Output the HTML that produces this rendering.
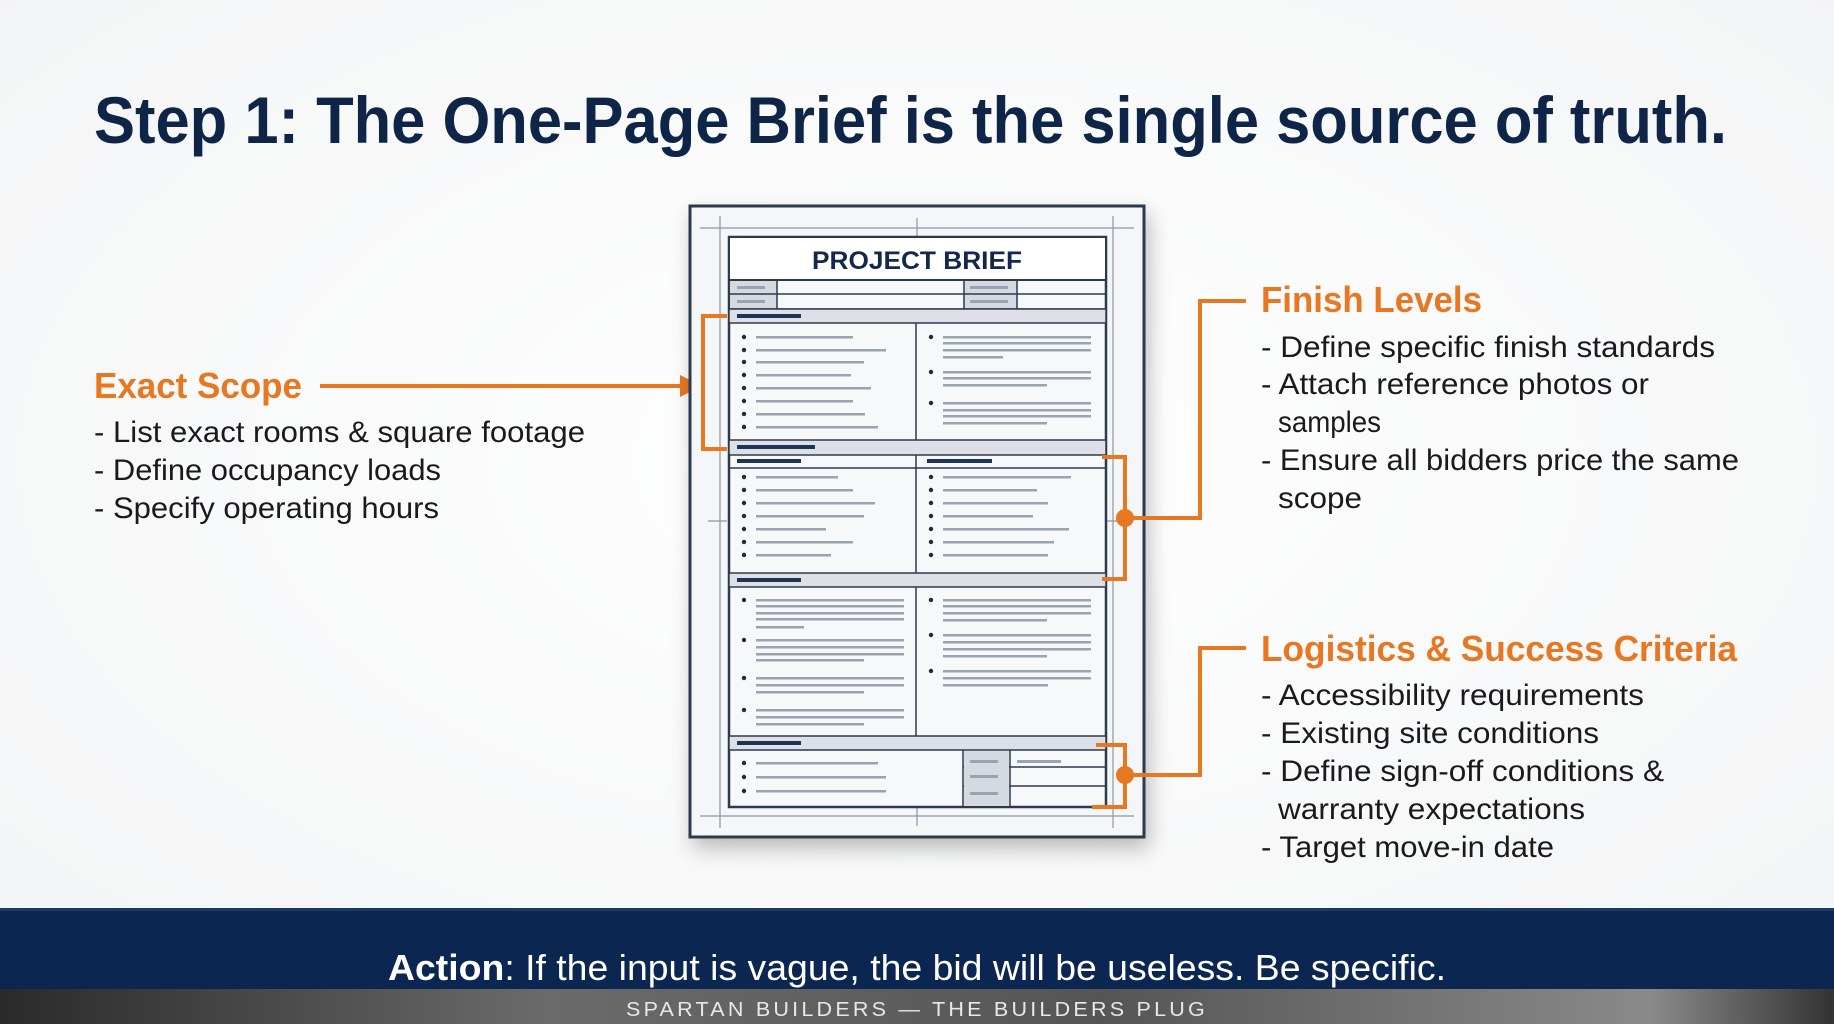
<!DOCTYPE html>
<html><head><meta charset="utf-8"><style>
html,body{margin:0;padding:0;background:#fff;}
svg{display:block;}
text{font-family:"Liberation Sans",sans-serif;}
</style></head><body>
<svg width="1834" height="1024" viewBox="0 0 1834 1024" xmlns="http://www.w3.org/2000/svg">
<defs>
<radialGradient id="bg" cx="50%" cy="45%" r="70%"><stop offset="0" stop-color="#ffffff"/><stop offset="1" stop-color="#f3f4f5"/></radialGradient>
<linearGradient id="floor" x1="0" y1="0" x2="1" y2="0"><stop offset="0" stop-color="#2a2a2a"/><stop offset="0.3" stop-color="#6b6b6b"/><stop offset="0.6" stop-color="#555"/><stop offset="0.9" stop-color="#8a8a8a"/><stop offset="1" stop-color="#333"/></linearGradient>
<filter id="sh" x="-10%" y="-10%" width="130%" height="130%"><feDropShadow dx="4" dy="10" stdDeviation="10" flood-color="#000" flood-opacity="0.25"/></filter>
</defs>
<rect width="1834" height="1024" fill="url(#bg)"/>

<text x="94" y="143" font-size="66" font-weight="bold" fill="#0F2547" textLength="1633" lengthAdjust="spacingAndGlyphs">Step 1: The One-Page Brief is the single source of truth.</text>

<text x="94" y="398" font-size="36" font-weight="bold" fill="#E87722" textLength="208" lengthAdjust="spacingAndGlyphs">Exact Scope</text>
<line x1="320" y1="386" x2="682" y2="386" stroke="#E87722" stroke-width="4"/>
<polygon points="680,375 702,386 680,397" fill="#E87722"/>
<g font-size="30" fill="#1a1a1a">
<text x="94" y="442" textLength="491" lengthAdjust="spacingAndGlyphs">- List exact rooms &amp; square footage</text>
<text x="94" y="480" textLength="347" lengthAdjust="spacingAndGlyphs">- Define occupancy loads</text>
<text x="94" y="518" textLength="345" lengthAdjust="spacingAndGlyphs">- Specify operating hours</text>
</g>

<text x="1261" y="312" font-size="36" font-weight="bold" fill="#E87722" textLength="221" lengthAdjust="spacingAndGlyphs">Finish Levels</text>
<g font-size="30" fill="#1a1a1a">
<text x="1261" y="357" textLength="454" lengthAdjust="spacingAndGlyphs">- Define specific finish standards</text>
<text x="1261" y="394" textLength="388" lengthAdjust="spacingAndGlyphs">- Attach reference photos or</text>
<text x="1278" y="432" textLength="103" lengthAdjust="spacingAndGlyphs">samples</text>
<text x="1261" y="470" textLength="478" lengthAdjust="spacingAndGlyphs">- Ensure all bidders price the same</text>
<text x="1278" y="508" textLength="84" lengthAdjust="spacingAndGlyphs">scope</text>
</g>

<text x="1261" y="661" font-size="36" font-weight="bold" fill="#E87722" textLength="476" lengthAdjust="spacingAndGlyphs">Logistics &amp; Success Criteria</text>
<g font-size="30" fill="#1a1a1a">
<text x="1261" y="705" textLength="383" lengthAdjust="spacingAndGlyphs">- Accessibility requirements</text>
<text x="1261" y="743" textLength="338" lengthAdjust="spacingAndGlyphs">- Existing site conditions</text>
<text x="1261" y="781" textLength="403" lengthAdjust="spacingAndGlyphs">- Define sign-off conditions &amp;</text>
<text x="1278" y="819" textLength="307" lengthAdjust="spacingAndGlyphs">warranty expectations</text>
<text x="1261" y="857" textLength="293" lengthAdjust="spacingAndGlyphs">- Target move-in date</text>
</g>

<rect x="690" y="206" width="454" height="631" fill="#f4f6f8" stroke="#2c3a4d" stroke-width="3" filter="url(#sh)"/>
<g stroke="#8a96a6" stroke-width="1.2" fill="none">
<line x1="720" y1="216" x2="720" y2="828"/><line x1="1113" y1="216" x2="1113" y2="828"/>
<line x1="700" y1="228" x2="1134" y2="228"/><line x1="700" y1="816" x2="1134" y2="816"/>
<line x1="917" y1="218" x2="917" y2="236"/><line x1="917" y1="807" x2="917" y2="826"/>
<line x1="708" y1="521" x2="727" y2="521"/><line x1="1106" y1="521" x2="1125" y2="521"/>
</g>
<rect x="729" y="237" width="377" height="570" fill="#f7f8fa" stroke="#2c3a4d" stroke-width="2.5"/>
<rect x="729" y="237" width="377" height="43" fill="#fff" stroke="#2c3a4d" stroke-width="2"/>
<text x="917" y="269" font-size="25" font-weight="bold" fill="#13284a" text-anchor="middle" textLength="210" lengthAdjust="spacingAndGlyphs">PROJECT BRIEF</text>
<rect x="730" y="281" width="47" height="28" fill="#d5dae1"/>
<rect x="964" y="281" width="53" height="28" fill="#d5dae1"/>
<g stroke="#2c3a4d" stroke-width="1.5" fill="none">
<line x1="729" y1="294" x2="1106" y2="294"/><line x1="729" y1="309" x2="1106" y2="309"/>
<line x1="777" y1="280" x2="777" y2="309"/><line x1="964" y1="280" x2="964" y2="309"/><line x1="1017" y1="280" x2="1017" y2="309"/>
</g>
<g fill="#9aa3af"><rect x="737" y="286" width="28" height="3"/><rect x="737" y="300" width="28" height="3"/><rect x="970" y="286" width="38" height="3"/><rect x="970" y="300" width="38" height="3"/></g>
<g fill="#dde1e7" stroke="#2c3a4d" stroke-width="1.5">
<rect x="729" y="309" width="377" height="14"/>
<rect x="729" y="440" width="377" height="15"/>
<rect x="729" y="573" width="377" height="14"/>
<rect x="729" y="736" width="377" height="14"/>
</g>
<g stroke="#2c3a4d" stroke-width="1.5">
<line x1="729" y1="468" x2="1106" y2="468"/>
<line x1="916" y1="323" x2="916" y2="440"/><line x1="916" y1="455" x2="916" y2="573"/><line x1="916" y1="587" x2="916" y2="736"/>
<line x1="963" y1="750" x2="963" y2="807"/><line x1="1010" y1="750" x2="1010" y2="807"/>
<line x1="963" y1="767" x2="1106" y2="767"/><line x1="963" y1="786" x2="1106" y2="786"/>
</g>
<rect x="964" y="751" width="45" height="55" fill="#d5dae1"/>
<g fill="#1f3455">
<rect x="737" y="314" width="64" height="4"/><rect x="737" y="445" width="78" height="4"/>
<rect x="737" y="459" width="64" height="4"/><rect x="927" y="459" width="65" height="4"/>
<rect x="737" y="578" width="64" height="4"/><rect x="737" y="741" width="64" height="4"/>
</g>
<g fill="#1f2a3a">
<circle cx="744" cy="337" r="2.2"/><circle cx="744" cy="350" r="2.2"/><circle cx="744" cy="362" r="2.2"/><circle cx="744" cy="375" r="2.2"/><circle cx="744" cy="388" r="2.2"/><circle cx="744" cy="401" r="2.2"/><circle cx="744" cy="414" r="2.2"/><circle cx="744" cy="427" r="2.2"/>
<circle cx="931" cy="337" r="2.2"/><circle cx="931" cy="372" r="2.2"/><circle cx="931" cy="403" r="2.2"/>
<circle cx="744" cy="477" r="2.2"/><circle cx="744" cy="490" r="2.2"/><circle cx="744" cy="503" r="2.2"/><circle cx="744" cy="516" r="2.2"/><circle cx="744" cy="529" r="2.2"/><circle cx="744" cy="542" r="2.2"/><circle cx="744" cy="555" r="2.2"/>
<circle cx="931" cy="477" r="2.2"/><circle cx="931" cy="490" r="2.2"/><circle cx="931" cy="503" r="2.2"/><circle cx="931" cy="516" r="2.2"/><circle cx="931" cy="529" r="2.2"/><circle cx="931" cy="542" r="2.2"/><circle cx="931" cy="555" r="2.2"/>
<circle cx="744" cy="600" r="2.2"/><circle cx="744" cy="640" r="2.2"/><circle cx="744" cy="678" r="2.2"/><circle cx="744" cy="710" r="2.2"/>
<circle cx="931" cy="600" r="2.2"/><circle cx="931" cy="635" r="2.2"/><circle cx="931" cy="671" r="2.2"/>
<circle cx="744" cy="763" r="2.2"/><circle cx="744" cy="777" r="2.2"/><circle cx="744" cy="791" r="2.2"/>
</g>
<g fill="#9aa3af">
<rect x="756" y="336" width="97" height="2.5"/><rect x="756" y="349" width="130" height="2.5"/><rect x="756" y="361" width="108" height="2.5"/><rect x="756" y="374" width="95" height="2.5"/><rect x="756" y="387" width="115" height="2.5"/><rect x="756" y="400" width="97" height="2.5"/><rect x="756" y="413" width="109" height="2.5"/><rect x="756" y="426" width="122" height="2.5"/>
<rect x="943" y="336" width="148" height="2.5"/><rect x="943" y="342" width="148" height="2.5"/><rect x="943" y="349" width="148" height="2.5"/><rect x="943" y="356" width="60" height="2.5"/>
<rect x="943" y="371" width="148" height="2.5"/><rect x="943" y="377" width="148" height="2.5"/><rect x="943" y="384" width="104" height="2.5"/>
<rect x="943" y="402" width="148" height="2.5"/><rect x="943" y="409" width="148" height="2.5"/><rect x="943" y="415" width="148" height="2.5"/><rect x="943" y="422" width="104" height="2.5"/>
<rect x="756" y="476" width="82" height="2.5"/><rect x="756" y="489" width="97" height="2.5"/><rect x="756" y="502" width="119" height="2.5"/><rect x="756" y="515" width="108" height="2.5"/><rect x="756" y="528" width="70" height="2.5"/><rect x="756" y="541" width="97" height="2.5"/><rect x="756" y="554" width="75" height="2.5"/>
<rect x="943" y="476" width="128" height="2.5"/><rect x="943" y="489" width="94" height="2.5"/><rect x="943" y="502" width="105" height="2.5"/><rect x="943" y="515" width="90" height="2.5"/><rect x="943" y="528" width="126" height="2.5"/><rect x="943" y="541" width="111" height="2.5"/><rect x="943" y="554" width="105" height="2.5"/>
<rect x="756" y="599" width="148" height="2.5"/><rect x="756" y="605" width="148" height="2.5"/><rect x="756" y="612" width="148" height="2.5"/><rect x="756" y="618" width="148" height="2.5"/><rect x="756" y="626" width="48" height="2.5"/>
<rect x="756" y="639" width="148" height="2.5"/><rect x="756" y="646" width="148" height="2.5"/><rect x="756" y="653" width="148" height="2.5"/><rect x="756" y="659" width="108" height="2.5"/>
<rect x="756" y="677" width="148" height="2.5"/><rect x="756" y="684" width="148" height="2.5"/><rect x="756" y="691" width="108" height="2.5"/>
<rect x="756" y="709" width="148" height="2.5"/><rect x="756" y="716" width="148" height="2.5"/><rect x="756" y="723" width="108" height="2.5"/>
<rect x="943" y="599" width="148" height="2.5"/><rect x="943" y="605" width="148" height="2.5"/><rect x="943" y="612" width="148" height="2.5"/><rect x="943" y="619" width="104" height="2.5"/>
<rect x="943" y="634" width="148" height="2.5"/><rect x="943" y="641" width="148" height="2.5"/><rect x="943" y="648" width="148" height="2.5"/><rect x="943" y="655" width="104" height="2.5"/>
<rect x="943" y="670" width="148" height="2.5"/><rect x="943" y="677" width="148" height="2.5"/><rect x="943" y="684" width="105" height="2.5"/>
<rect x="756" y="762" width="122" height="2.5"/><rect x="756" y="776" width="130" height="2.5"/><rect x="756" y="790" width="130" height="2.5"/>
<rect x="970" y="760" width="28" height="3"/><rect x="970" y="775" width="28" height="3"/><rect x="970" y="792" width="28" height="3"/><rect x="1017" y="760" width="44" height="3"/>
</g>

<g stroke="#E87722" stroke-width="4" fill="none">
<polyline points="727,316 703,316 703,449 727,449"/>
<polyline points="1102,457 1125,457 1125,579 1102,579"/>
<polyline points="1125,518 1200,518 1200,301 1246,301"/>
<polyline points="1096,745 1125,745 1125,807 1092,807"/>
<polyline points="1125,775 1200,775 1200,648 1246,648"/>
</g>
<circle cx="1125" cy="518" r="9" fill="#E87722"/>
<circle cx="1125" cy="775" r="9" fill="#E87722"/>

<rect x="0" y="908" width="1834" height="82" fill="#0B2650"/>
<rect x="0" y="908" width="1834" height="3" fill="#1c3a66"/>
<text x="388" y="980" font-size="36" fill="#ffffff" textLength="1058" lengthAdjust="spacingAndGlyphs"><tspan font-weight="bold">Action</tspan>: If the input is vague, the bid will be useless. Be specific.</text>
<rect x="0" y="989" width="1834" height="35" fill="url(#floor)"/>
<text x="917" y="1016" font-size="20" fill="#e8e8e8" text-anchor="middle" textLength="582" lengthAdjust="spacingAndGlyphs" letter-spacing="3">SPARTAN BUILDERS — THE BUILDERS PLUG</text>
</svg>
</body></html>
